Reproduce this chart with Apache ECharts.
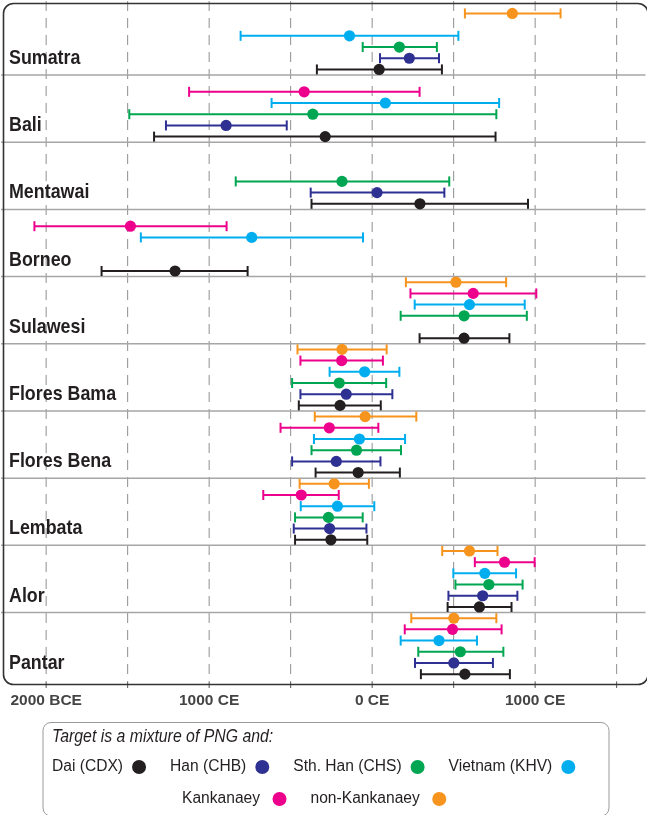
<!DOCTYPE html>
<html>
<head>
<meta charset="utf-8">
<script src="https://cdn.jsdelivr.net/npm/echarts@6/dist/echarts.min.js"></script>
<style>
  html, body { margin: 0; padding: 0; background: #fff; }
  #chart { width: 647px; height: 815px; }
</style>
</head>
<body>
<div id="chart"></div>
<script>
// ---------- data ----------
const regions = ["Sumatra", "Bali", "Mentawai", "Borneo", "Sulawesi",
                 "Flores Bama", "Flores Bena", "Lembata", "Alor", "Pantar"];

// each entry: [lower, estimate, upper] in years (negative = BCE); null = not shown
const nonKankanaey = [[569, 860, 1156], null, null, null, [207, 514, 822],
  [-458, -185, 89], [-352, -43, 271], [-445, -233, -20], [430, 597, 769], [240, 501, 762]];
const kankanaey = [null, [-1123, -417, 291], null, [-2072, -1483, -893], [235, 620, 1007],
  [-440, -187, 66], [-562, -263, 38], [-668, -435, -205], [630, 812, 997], [200, 493, 794]];
const vietnamKHV = [[-807, -139, 529], [-617, 81, 779], null, [-1419, -739, -56], [261, 597, 936],
  [-261, -46, 167], [-357, -78, 202], [-438, -213, 13], [498, 691, 883], [175, 410, 643]];
const sthHanCHS = [[-58, 167, 397], [-1490, -364, 762], [-837, -185, 473], null, [175, 564, 949],
  [-491, -202, 86], [-372, -96, 177], [-473, -268, -58], [511, 716, 923], [283, 541, 805]];
const hanCHB = [[48, 228, 410], [-1265, -896, -524], [-377, 30, 443], null, null,
  [-440, -159, 124], [-491, -220, 51], [-481, -261, -35], [468, 678, 891], [263, 501, 741]];
const daiCDX = [[-339, 43, 428], [-1338, -288, 757], [-372, 293, 956], [-1660, -1209, -764], [291, 564, 842],
  [-450, -197, 53], [-347, -86, 170], [-473, -253, -30], [463, 658, 855], [299, 569, 845]];

const tickValues = [-2000, -1500, -1000, -500, 0, 500, 1000, 1500];
const tickLabels = ["2000 BCE", "", "1000 CE", "", "0 CE", "", "1000 CE", ""];

const legendTitle = "Target is a mixture of PNG and:";

// series in row order from top of each panel to bottom
const groups = [
  { name: "non-Kankanaey", values: nonKankanaey, color: "#f7941d" },
  { name: "Kankanaey", values: kankanaey, color: "#ec008c" },
  { name: "Vietnam (KHV)", values: vietnamKHV, color: "#00aeef" },
  { name: "Sth. Han (CHS)", values: sthHanCHS, color: "#00a651" },
  { name: "Han (CHB)", values: hanCHB, color: "#2e3192" },
  { name: "Dai (CDX)", values: daiCDX, color: "#231f20" }
];

// ---------- layout ----------
const FONT = "'Liberation Sans', Arial, sans-serif";
const ROWS = groups.length;               // rows per panel
const G = { left: 1, right: 1.5, top: 1, bottom: 133 };
const chartW = 647, chartH = 815;

const chart = echarts.init(document.getElementById('chart'), null, { renderer: 'canvas' });

function barItem(params, api) {
  const y = api.value(3);
  const lo = api.coord([api.value(0), y]);
  const mid = api.coord([api.value(1), y]);
  const hi = api.coord([api.value(2), y]);
  const color = api.visual('color');
  const cap = 5;
  return {
    type: 'group',
    children: [
      { type: 'line', shape: { x1: lo[0], y1: lo[1], x2: hi[0], y2: hi[1] }, style: { stroke: color, lineWidth: 2 } },
      { type: 'line', shape: { x1: lo[0], y1: lo[1] - cap, x2: lo[0], y2: lo[1] + cap }, style: { stroke: color, lineWidth: 2 } },
      { type: 'line', shape: { x1: hi[0], y1: hi[1] - cap, x2: hi[0], y2: hi[1] + cap }, style: { stroke: color, lineWidth: 2 } },
      { type: 'circle', shape: { cx: mid[0], cy: mid[1], r: 5.6 }, style: { fill: color } }
    ]
  };
}

const barSeries = groups.map((g, gi) => ({
  type: 'custom',
  name: g.name,
  itemStyle: { color: g.color },
  renderItem: barItem,
  encode: { x: [0, 1, 2], y: 3 },
  z: 5,
  data: g.values.map((v, ri) => v ? [v[0], v[1], v[2], ri * ROWS + gi + 0.5] : null).filter(d => d)
}));

const gridSeries = {
  type: 'custom',
  name: '_grid',
  silent: true,
  clip: false,
  z: 1,
  renderItem: function (params, api) {
    const cs = params.coordSys;
    const p = api.coord([api.value(0), 0]);
    const yb = cs.y + cs.height;
    return {
      type: 'group',
      children: [
        { type: 'line', shape: { x1: p[0], y1: cs.y, x2: p[0], y2: yb },
          style: { stroke: '#8f8f8f', lineWidth: 1, lineDash: [10, 7] } },
        { type: 'line', shape: { x1: p[0], y1: yb, x2: p[0], y2: yb + 6 },
          style: { stroke: '#555', lineWidth: 1 } }
      ]
    };
  },
  data: tickValues.map(v => [v])
};

const sepSeries = {
  type: 'custom',
  name: '_sep',
  silent: true,
  z: 2,
  renderItem: function (params, api) {
    const cs = params.coordSys;
    const p = api.coord([0, api.value(0)]);
    return {
      type: 'line',
      shape: { x1: cs.x, y1: p[1], x2: cs.x + cs.width, y2: p[1] },
      style: { stroke: '#a6a6a6', lineWidth: 1.5 }
    };
  },
  data: regions.slice(1).map((r, i) => [(i + 1) * ROWS])
};

const labelSeries = {
  type: 'custom',
  name: '_labels',
  silent: true,
  z: 3,
  renderItem: function (params, api) {
    const cs = params.coordSys;
    const p = api.coord([0, api.value(0)]);
    return {
      type: 'text',
      x: cs.x + 8,
      y: p[1],
      scaleX: 0.85,
      style: {
        text: regions[params.dataIndex],
        font: "bold 21px " + FONT,
        fill: '#231f20',
        verticalAlign: 'middle',
        align: 'left'
      }
    };
  },
  data: regions.map((r, i) => [i * ROWS + 4.5])
};

const legendNames1 = ["Dai (CDX)", "Han (CHB)", "Sth. Han (CHS)", "Vietnam (KHV)"];
const legendNames2 = ["Kankanaey", "non-Kankanaey"];

const legendCommon = {
  orient: 'horizontal',
  align: 'right',
  icon: 'circle',
  itemWidth: 14,
  itemHeight: 14,
  itemGap: 24,
  padding: 0,
  selectedMode: false
};

const option = {
  animation: false,
  backgroundColor: '#ffffff',
  grid: { left: G.left, right: G.right, top: G.top, bottom: G.bottom, containLabel: false },
  xAxis: {
    type: 'value',
    min: -2277,
    max: 1677,
    axisLine: { show: false },
    splitLine: { show: false },
    axisTick: { show: false },
    axisLabel: {
      customValues: tickValues,
      margin: 11,
      fontFamily: FONT,
      fontWeight: 'bold',
      fontSize: 15.5,
      color: '#444',
      formatter: function (v) {
        const i = tickValues.indexOf(v);
        return i >= 0 ? tickLabels[i] : '';
      }
    }
  },
  yAxis: {
    type: 'value',
    inverse: true,
    min: -0.61,
    max: 60.2,
    show: false
  },
  legend: [
    Object.assign({}, legendCommon, {
      data: legendNames1, left: 52, top: 759,
      textStyle: { fontFamily: FONT, fontSize: 15.6, lineHeight: 16, color: '#231f20', padding: [0, 4, 0, 0] }
    }),
    Object.assign({}, legendCommon, {
      data: legendNames2, left: 182, top: 791,
      textStyle: { fontFamily: FONT, fontSize: 15.6, lineHeight: 16, color: '#231f20', padding: [0, 7.5, 0, 0] }
    })
  ],
  graphic: [
    {
      type: 'rect',
      left: G.left, top: G.top,
      shape: { width: chartW - G.left - G.right, height: chartH - G.top - G.bottom, r: 10 },
      style: { fill: 'none', stroke: '#333', lineWidth: 1.6 },
      z: 10, silent: true
    },
    {
      type: 'rect',
      left: 40.5, top: 720,
      shape: { width: 566, height: 93.5, r: 8 },
      style: { fill: 'none', stroke: '#9a9a9a', lineWidth: 1 },
      z: 10, silent: true
    },
    {
      type: 'text',
      x: 52, y: 737,
      scaleX: 0.88,
      style: { text: legendTitle, font: "italic 18px " + FONT, fill: '#231f20', verticalAlign: 'middle' },
      z: 10, silent: true
    }
  ],
  series: [gridSeries, sepSeries, labelSeries].concat(barSeries)
};

chart.setOption(option);
</script>
</body>
</html>
